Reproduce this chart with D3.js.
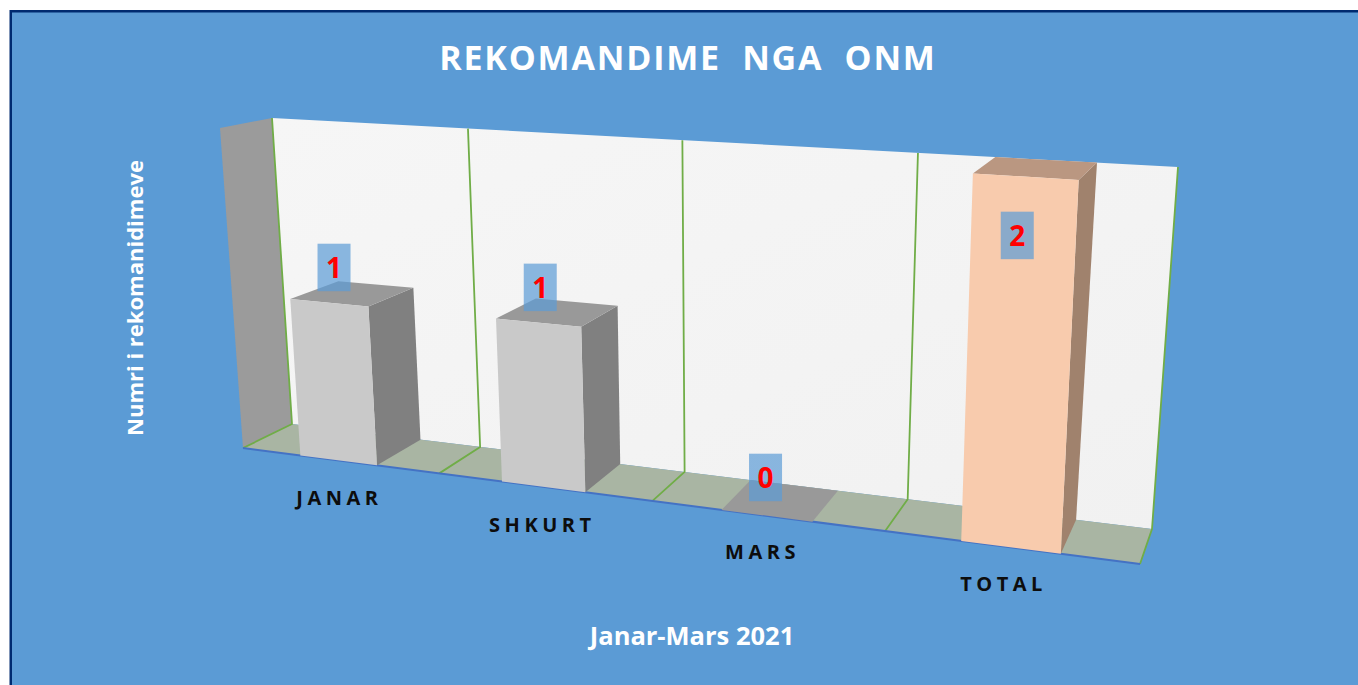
<!DOCTYPE html>
<html>
<head>
<meta charset="utf-8">
<script src="https://cdn.jsdelivr.net/npm/d3@7/dist/d3.min.js"></script>
<style>
html,body{margin:0;padding:0;background:#fff;overflow:hidden}
svg{display:block}
text{font-family:"Open Sans",sans-serif;font-weight:700}
</style>
</head>
<body>
<svg id="c" width="1358" height="685"></svg>
<script>
const categories = ["JANAR","SHKURT","MARS","TOTAL"];
const values = [1,1,0,2];
const yDomain = [0,2];
const titleText = "REKOMANDIME  NGA  ONM";
const yTitle = "Numri i rekomanidimeve";
const xTitle = "Janar-Mars 2021";

// Perspective box corners (u across, v up, w depth)
const box = {
  fb0:[243,448], fb1:[1140,564], bb0:[292,424], bb1:[1152,529],
  ft0:[220,128], ft1:[1163,185], bt0:[272,118], bt1:[1178,167]
};
const warp = (x,k) => k*x/(1+(k-1)*x);
const mix = (a,b,t) => [a[0]+(b[0]-a[0])*t, a[1]+(b[1]-a[1])*t];
function project(u,v,w){
  const h = warp(v,0.934);
  const t = warp(u,0.84-0.012*h);
  const bottom = mix(mix(box.fb0,box.fb1,t),mix(box.bb0,box.bb1,t),w);
  const top = mix(mix(box.ft0,box.ft1,t),mix(box.bt0,box.bt1,t),w);
  return mix(bottom,top,h);
}
const xBand = d3.scaleBand().domain(categories).range([0,1]).paddingInner(0.61).paddingOuter(0.3);
const yScale = d3.scaleLinear().domain(yDomain).range([0,1]);
const grid = d3.scalePoint().domain(d3.range(categories.length+1)).range([0,1]);

const svg = d3.select("#c");
const path = d3.line();
const quad = pts => path(pts)+"Z";
const defs = svg.append("defs");
const g = defs.append("linearGradient").attr("id","wall").attr("x1","0").attr("y1","0").attr("x2","1").attr("y2","1");
g.append("stop").attr("offset","0").attr("stop-color","#f6f6f6");
g.append("stop").attr("offset","1").attr("stop-color","#f1f1f1");

// panel
svg.append("rect").attr("x",9.5).attr("y",10).attr("width",1349).attr("height",675).attr("fill","#002a70");
svg.append("rect").attr("x",12).attr("y",12.5).attr("width",1346).attr("height",673).attr("fill","#5b9bd5");

// walls and floor
svg.append("path").attr("d",quad([project(0,0,0),project(0,1,0),project(0,1,1),project(0,0,1)])).attr("fill","#9b9b9b");
svg.append("path").attr("d",quad([project(0,0,1),project(0,1,1),project(1,1,1),project(1,0,1)])).attr("fill","url(#wall)");
svg.append("path").attr("d",quad([project(0,0,0),project(0,0,1),project(1,0,1),project(1,0,0)])).attr("fill","#a9b5a3");

// gridlines
const gridG = svg.append("g").attr("fill","none").attr("stroke","#70ad47").attr("stroke-width",1.8);
grid.domain().forEach(i=>{
  const u = grid(i);
  gridG.append("path").attr("d",path([project(u,0,0),project(u,0,1),project(u,1,1)]));
});
svg.append("path").attr("d",path([project(0,0,0),project(1,0,0)])).attr("stroke","#4472c4").attr("stroke-width",2).attr("fill","none");

// bars
const palette = {
  grey:{front:"#c9c9c9",top:"#999999",side:"#808080"},
  total:{front:"#f8cbad",top:"#ba9781",side:"#a0826d"}
};
const bars = svg.append("g").selectAll("g").data(categories).join("g");
bars.each(function(c,i){
  const sel = d3.select(this);
  const u0 = xBand(c), u1 = u0+xBand.bandwidth(), v = yScale(values[i]);
  const col = c==="TOTAL" ? palette.total : palette.grey;
  sel.append("path").attr("d",quad([project(u1,0,0),project(u1,v,0),project(u1,v,1),project(u1,0,1)])).attr("fill",col.side);
  sel.append("path").attr("d",quad([project(u0,v,0),project(u0,v,1),project(u1,v,1),project(u1,v,0)])).attr("fill",col.top);
  sel.append("path").attr("d",quad([project(u0,0,0),project(u0,v,0),project(u1,v,0),project(u1,0,0)])).attr("fill",col.front);
});

// data labels (boxes nudged from the front top edge centre of each bar)
const labelNudge = [[5,-35],[2,-35],[-1,-38],[-8,59]];
const labelG = svg.append("g").selectAll("g").data(categories).join("g").attr("transform",(c,i)=>{
  const p = project(xBand(c)+xBand.bandwidth()/2,yScale(values[i]),0);
  return `translate(${p[0]+labelNudge[i][0]},${p[1]+labelNudge[i][1]})`;
});
labelG.append("rect").attr("x",-16.5).attr("y",-24).attr("width",33).attr("height",47.5).attr("fill","#5b9bd5").attr("fill-opacity",0.7);
labelG.append("text").attr("text-anchor","middle").attr("y",10).attr("font-size",28).attr("fill","#ff0000").text((c,i)=>values[i]);

// category labels
const catNudge = [[1,45],[-1,45],[-4,43],[-7,44]];
svg.append("g").selectAll("text").data(categories).join("text")
  .attr("text-anchor","middle").attr("font-size",20).attr("letter-spacing",4.5).attr("fill","#0d0d0d")
  .attr("x",(c,i)=>project(xBand(c)+xBand.bandwidth()/2,0,0)[0]+catNudge[i][0])
  .attr("y",(c,i)=>project(xBand(c)+xBand.bandwidth()/2,0,0)[1]+catNudge[i][1])
  .text(c=>c);

// titles
svg.append("text").attr("x",688).attr("y",70).attr("text-anchor","middle").attr("font-size",34).attr("letter-spacing",1.8)
  .attr("fill","#fff").attr("xml:space","preserve").style("white-space","pre").text(titleText);
svg.append("text").attr("transform","translate(143,298) rotate(-90)").attr("text-anchor","middle").attr("font-size",22)
  .attr("fill","#fff").text(yTitle);
svg.append("text").attr("x",692).attr("y",645).attr("text-anchor","middle").attr("font-size",25.5)
  .attr("fill","#fff").text(xTitle);
</script>
</body>
</html>
